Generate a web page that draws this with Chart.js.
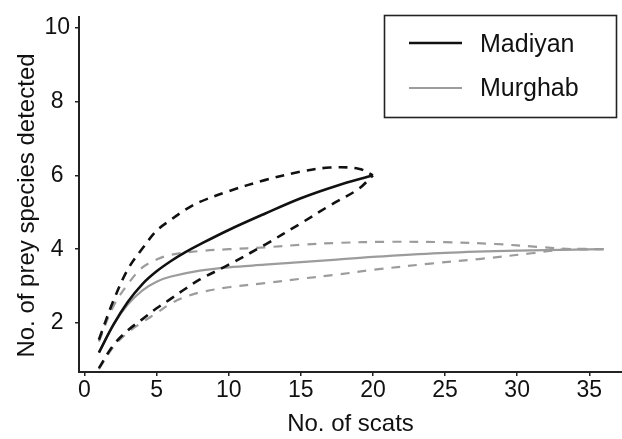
<!DOCTYPE html>
<html><head><meta charset="utf-8">
<script src="https://cdn.jsdelivr.net/npm/chart.js@4.4.0/dist/chart.umd.min.js"></script>
<style>html,body{margin:0;padding:0;background:#fff;}#wrap{width:622px;height:439px;position:relative;}</style>
</head><body><div id="wrap"><canvas id="c" width="622" height="439"></canvas></div>
<script>
const xTitle = 'No. of scats';
const yTitle = 'No. of prey species detected';
const xTicks = [0,5,10,15,20,25,30,35];
const yTicks = [2,4,6,8,10];
const seriesNames = ['Madiyan','Murghab'];

const madiyanX = [1,2,3,4,5,6,7,8,10,12.5,15,17.5,20];
const madiyanY = [1.2,1.95,2.57,3.05,3.4,3.68,3.92,4.13,4.52,4.96,5.38,5.72,6.0];
const madiyanUpperX = [1,2,3,4,5,6,7,8,10,12.5,15,17,19,20];
const madiyanUpperY = [1.55,2.6,3.45,4.01,4.5,4.8,5.07,5.28,5.57,5.87,6.1,6.21,6.18,6.0];
const madiyanLowerX = [1,2,3,4,5,6,7,8,10,12.5,15,17,19,20];
const madiyanLowerY = [0.78,1.4,1.8,2.1,2.4,2.66,2.93,3.18,3.58,4.12,4.7,5.18,5.63,6.0];

const murghabX = [1,2,3,4,5,6,8,10,12.5,15,17.5,20,25,30,36];
const murghabY = [1.2,1.95,2.5,2.88,3.12,3.26,3.42,3.51,3.58,3.65,3.72,3.79,3.9,3.96,4.0];
const murghabUpperX = [1,2,3,4,5,6,8,10,12.5,15,17.5,21,25,28.5,31.5,34,36];
const murghabUpperY = [1.5,2.45,3.05,3.5,3.72,3.85,3.95,4.0,4.05,4.12,4.17,4.2,4.19,4.14,4.06,4.0,4.0];
const murghabLowerX = [1,2,3,4,5,6,7,8,10,12.5,15,17.5,20,24,27.5,31,33.5,36];
const murghabLowerY = [0.75,1.35,1.74,2.02,2.27,2.53,2.71,2.83,2.97,3.08,3.2,3.31,3.44,3.61,3.74,3.89,4.0,4.0];

const BLACK = '#111111';
const GREY = '#9c9c9c';
const FONT = '"Liberation Sans", Arial, Helvetica, sans-serif';

function pts(xs, ys){ return xs.map((x,i)=>({x:x, y:ys[i]})); }
function ds(label, xs, ys, color, width, dash){
  return {label:label, data:pts(xs,ys), borderColor:color, borderWidth:width,
    borderDash:dash||[], pointRadius:0, fill:false, tension:0.35, borderCapStyle:'butt'};
}

const datasets = [
  ds(seriesNames[0], madiyanX, madiyanY, BLACK, 2.6),
  ds(seriesNames[0]+' upper', madiyanUpperX, madiyanUpperY, BLACK, 2.6, [9,7]),
  ds(seriesNames[0]+' lower', madiyanLowerX, madiyanLowerY, BLACK, 2.6, [9,7]),
  ds(seriesNames[1], murghabX, murghabY, GREY, 2.2),
  ds(seriesNames[1]+' upper', murghabUpperX, murghabUpperY, GREY, 2.2, [9,8]),
  ds(seriesNames[1]+' lower', murghabLowerX, murghabLowerY, GREY, 2.2, [9,8])
];

const overlay = {
  id:'overlay',
  afterDraw(chart){
    const ctx = chart.ctx;
    ctx.save();
    ctx.translate(27, 205.5);
    ctx.rotate(-Math.PI/2);
    ctx.font = '24px ' + FONT;
    ctx.fillStyle = BLACK;
    ctx.textAlign = 'center';
    ctx.textBaseline = 'middle';
    ctx.fillText(yTitle, 0, 0);
    ctx.restore();

    ctx.save();
    ctx.strokeStyle = '#222';
    ctx.lineWidth = 1.6;
    ctx.strokeRect(384.5, 15.5, 232, 102);
    const entries = [{name:seriesNames[0], color:BLACK, w:2.6, y:43, base:51.5},
                     {name:seriesNames[1], color:GREY, w:2.2, y:88, base:96}];
    ctx.font = '25px ' + FONT;
    ctx.textAlign = 'left';
    ctx.textBaseline = 'alphabetic';
    entries.forEach(e=>{
      ctx.beginPath();
      ctx.strokeStyle = e.color; ctx.lineWidth = e.w;
      ctx.moveTo(409, e.y); ctx.lineTo(462, e.y); ctx.stroke();
      ctx.fillStyle = BLACK;
      ctx.fillText(e.name, 480, e.base);
    });
    ctx.restore();
  }
};

new Chart(document.getElementById('c'), {
  type:'line',
  data:{datasets:datasets},
  plugins:[overlay],
  options:{
    responsive:false, animation:false, devicePixelRatio:1,
    layout:{padding:{left:0,right:0,top:0,bottom:0}},
    plugins:{legend:{display:false}, tooltip:{enabled:false}},
    scales:{
      x:{type:'linear', min:-0.38, max:37.27,
        afterBuildTicks(s){ s.ticks = xTicks.map(v=>({value:v})); },
        afterFit(s){ s.height = 67; },
        grid:{drawOnChartArea:false, drawTicks:true, tickLength:4, color:'#222', lineWidth:1.5},
        border:{display:true, color:'#222', width:2},
        ticks:{color:BLACK, padding:3.5, maxRotation:0, autoSkip:false, font:{family:FONT, size:23, lineHeight:1}},
        title:{display:true, text:xTitle, color:BLACK, padding:{top:0,bottom:0}, font:{family:FONT, size:24}}
      },
      y:{type:'linear', min:0.675, max:10.3,
        afterBuildTicks(s){ s.ticks = yTicks.map(v=>({value:v})); },
        afterFit(s){ s.width = 79; },
        grid:{drawOnChartArea:false, drawTicks:true, tickLength:4, color:'#222', lineWidth:1.5},
        border:{display:true, color:'#222', width:2},
        ticks:{color:BLACK, padding:5, crossAlign:'center', autoSkip:false, font:{family:FONT, size:23, lineHeight:1}}
      }
    }
  }
});
</script></body></html>
